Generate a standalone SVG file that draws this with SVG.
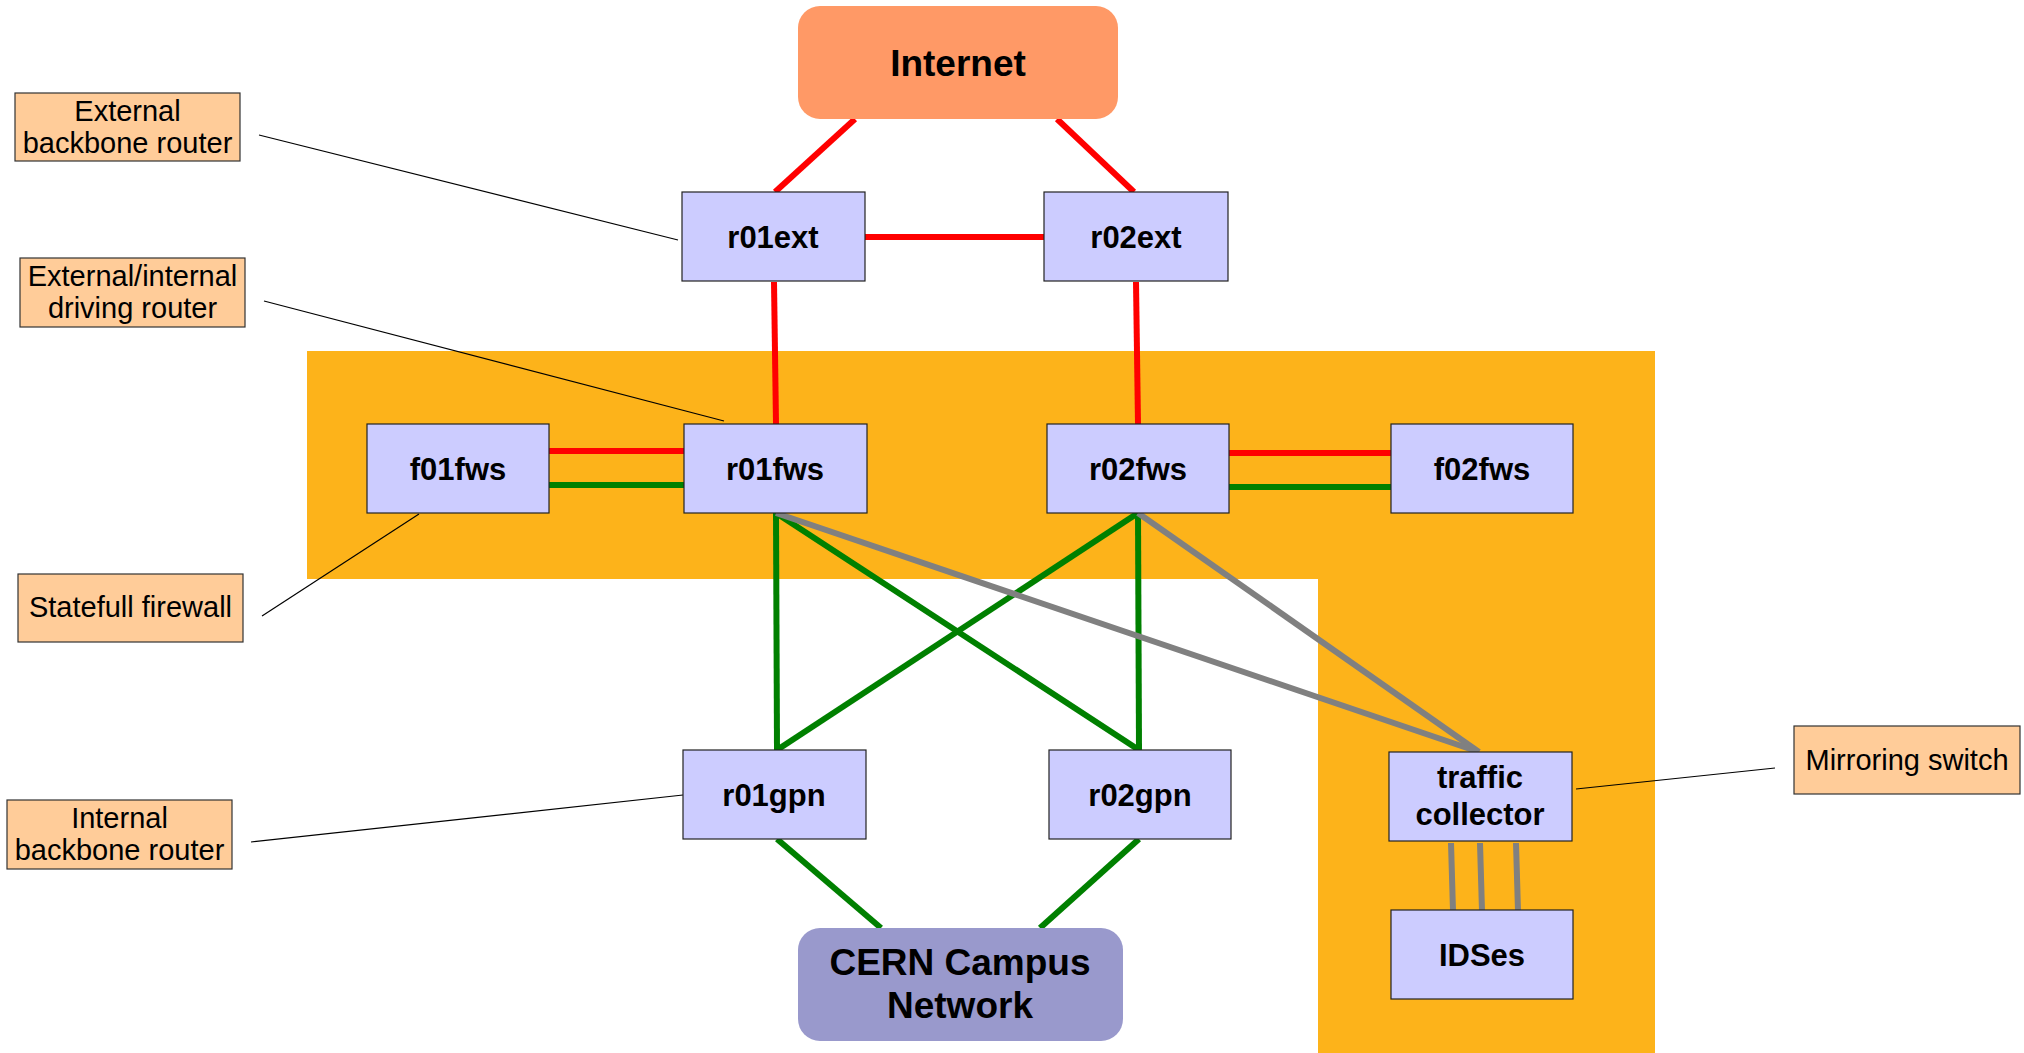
<svg xmlns="http://www.w3.org/2000/svg" width="2024" height="1053" viewBox="0 0 2024 1053">
<style>
.node rect{fill:#ccccff;stroke:#222;stroke-width:1.2}
.node text{font-family:"Liberation Sans",Arial,sans-serif;font-weight:bold;font-size:31px;text-anchor:middle;fill:#000}
.big text{font-size:37px}
.label rect{fill:#ffcc99;stroke:#333;stroke-width:1.2}
.label text{font-family:"Liberation Sans",Arial,sans-serif;font-size:29px;text-anchor:middle;fill:#000}
.red{stroke:#ff0000;stroke-width:6;fill:none}
.green{stroke:#008000;stroke-width:6;fill:none}
.gray{stroke:#808080;stroke-width:6;fill:none}
.lead{stroke:#000;stroke-width:1.2;fill:none}
</style>
<rect width="2024" height="1053" fill="#ffffff"/>
<polygon id="zone" points="307,351 1655,351 1655,1053 1318,1053 1318,579 307,579" fill="#fdb31a"/>
<g id="connectors">
<line class="red" x1="855" y1="119" x2="775" y2="192"/>
<line class="red" x1="1057" y1="119" x2="1134" y2="192"/>
<line class="red" x1="865" y1="237" x2="1044" y2="237"/>
<line class="red" x1="774" y1="282" x2="776" y2="424"/>
<line class="red" x1="1136" y1="282" x2="1138" y2="424"/>
<line class="red" x1="549" y1="451" x2="684" y2="451"/>
<line class="red" x1="1229" y1="453" x2="1391" y2="453"/>
<line class="green" x1="549" y1="485" x2="684" y2="485"/>
<line class="green" x1="1229" y1="487" x2="1391" y2="487"/>
<line class="green" x1="776" y1="513" x2="777" y2="750"/>
<line class="green" x1="776" y1="513" x2="1139" y2="750"/>
<line class="green" x1="1138" y1="513" x2="777" y2="750"/>
<line class="green" x1="1138" y1="513" x2="1139" y2="750"/>
<line class="green" x1="777" y1="839" x2="881" y2="928"/>
<line class="green" x1="1139" y1="839" x2="1040" y2="928"/>
<line class="gray" x1="776" y1="513" x2="1479" y2="752"/>
<line class="gray" x1="1138" y1="513" x2="1479" y2="752"/>
<line class="gray" x1="1451" y1="843" x2="1453" y2="911"/>
<line class="gray" x1="1480" y1="843" x2="1482" y2="911"/>
<line class="gray" x1="1516" y1="843" x2="1518" y2="911"/>
<line class="lead" x1="259" y1="135" x2="678" y2="240"/>
<line class="lead" x1="264" y1="301" x2="724" y2="421"/>
<line class="lead" x1="262" y1="616" x2="419" y2="514"/>
<line class="lead" x1="251" y1="842" x2="683" y2="795"/>
<line class="lead" x1="1775" y1="768" x2="1576" y2="789"/>
</g>
<g id="internet" class="node big"><rect x="798" y="6" width="320" height="113" rx="22" style="fill:#ff9966;stroke:none"/><text x="958" y="76">Internet</text></g>
<g id="cern" class="node big"><rect x="798" y="928" width="325" height="113" rx="22" style="fill:#9999cc;stroke:none"/><text x="960" y="975">CERN Campus</text><text x="960" y="1018">Network</text></g>
<g id="r01ext" class="node"><rect x="682" y="192" width="183" height="89"/><text x="773" y="248">r01ext</text></g>
<g id="r02ext" class="node"><rect x="1044" y="192" width="184" height="89"/><text x="1136" y="248">r02ext</text></g>
<g id="f01fws" class="node"><rect x="367" y="424" width="182" height="89"/><text x="458" y="480">f01fws</text></g>
<g id="r01fws" class="node"><rect x="684" y="424" width="183" height="89"/><text x="775" y="480">r01fws</text></g>
<g id="r02fws" class="node"><rect x="1047" y="424" width="182" height="89"/><text x="1138" y="480">r02fws</text></g>
<g id="f02fws" class="node"><rect x="1391" y="424" width="182" height="89"/><text x="1482" y="480">f02fws</text></g>
<g id="r01gpn" class="node"><rect x="683" y="750" width="183" height="89"/><text x="774" y="806">r01gpn</text></g>
<g id="r02gpn" class="node"><rect x="1049" y="750" width="182" height="89"/><text x="1140" y="806">r02gpn</text></g>
<g id="traffic" class="node"><rect x="1389" y="752" width="183" height="89"/><text x="1480" y="788">traffic</text><text x="1480" y="825">collector</text></g>
<g id="idses" class="node"><rect x="1391" y="910" width="182" height="89"/><text x="1482" y="966">IDSes</text></g>
<g id="lbl-ext" class="label"><rect x="15" y="93" width="225" height="68"/><text x="127.5" y="121">External</text><text x="127.5" y="153">backbone router</text></g>
<g id="lbl-drv" class="label"><rect x="20" y="258" width="225" height="69"/><text x="132.5" y="286">External/internal</text><text x="132.5" y="318">driving router</text></g>
<g id="lbl-fw" class="label"><rect x="18" y="574" width="225" height="68"/><text x="130.5" y="617">Statefull firewall</text></g>
<g id="lbl-int" class="label"><rect x="7" y="800" width="225" height="69"/><text x="119.5" y="828">Internal</text><text x="119.5" y="860">backbone router</text></g>
<g id="lbl-mir" class="label"><rect x="1794" y="726" width="226" height="68"/><text x="1907" y="770">Mirroring switch</text></g>
</svg>
